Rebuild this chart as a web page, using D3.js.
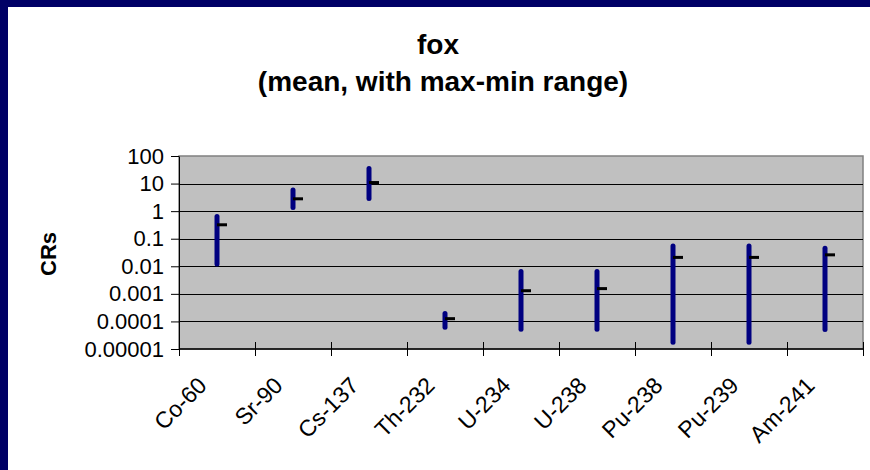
<!DOCTYPE html>
<html>
<head>
<meta charset="utf-8">
<script src="https://cdn.jsdelivr.net/npm/d3@7"></script>
<style>
  html, body { margin: 0; padding: 0; background: #ffffff; }
  svg { display: block; }
  text { font-family: "Liberation Sans", Arial, sans-serif; fill: #000; }
</style>
</head>
<body>
<svg id="chart" width="870" height="470"></svg>
<script>
// Radionuclides on the category axis
const categories = ["Co-60", "Sr-90", "Cs-137", "Th-232", "U-234", "U-238", "Pu-238", "Pu-239", "Am-241"];
// Concentration ratios: maximum, minimum and mean per nuclide
const maxValues  = [0.64, 5.8, 35, 0.000195, 0.0065, 0.0065, 0.054, 0.054, 0.045];
const minValues  = [0.012, 1.35, 2.9, 0.000062, 0.000052, 0.000052, 0.0000177, 0.0000177, 0.000051];
const meanValues = [0.32, 2.8, 10.9, 0.000126, 0.0013, 0.00155, 0.021, 0.021, 0.026];
// Log axis ticks and their printed labels
const yTickValues = [0.00001, 0.0001, 0.001, 0.01, 0.1, 1, 10, 100];
const yTickLabels = ["0.00001", "0.0001", "0.001", "0.01", "0.1", "1", "10", "100"];

const svg = d3.select("#chart");
const W = 870, H = 470;

// navy frame around the white chart area
svg.append("rect").attr("x", 0).attr("y", 0).attr("width", W).attr("height", H).attr("fill", "#000066");
svg.append("rect").attr("x", 8).attr("y", 7).attr("width", W - 8).attr("height", H - 7).attr("fill", "#ffffff");

const plot = { left: 179, right: 863, top: 156, bottom: 349 };

const x = d3.scaleBand().domain(categories).range([plot.left, plot.right]);
const y = d3.scaleLog().domain([0.00001, 100]).range([plot.bottom, plot.top]);

// plot area background
svg.append("rect")
  .attr("x", plot.left).attr("y", plot.top)
  .attr("width", plot.right - plot.left).attr("height", plot.bottom - plot.top)
  .attr("fill", "#c0c0c0").attr("stroke", "#808080").attr("stroke-width", 1.5);

// horizontal gridlines at each decade
svg.append("g").selectAll("line")
  .data(yTickValues.slice(1, -1))
  .join("line")
  .attr("x1", plot.left).attr("x2", plot.right)
  .attr("y1", d => Math.round(y(d)) + 0.5).attr("y2", d => Math.round(y(d)) + 0.5)
  .attr("stroke", "#000").attr("stroke-width", 1);

// y axis
const yAxis = d3.axisLeft(y)
  .tickValues(yTickValues)
  .tickFormat((d, i) => yTickLabels[i])
  .tickSize(8)
  .tickPadding(7)
  .tickSizeOuter(0);
const yG = svg.append("g").attr("transform", `translate(${plot.left},0)`).call(yAxis);
yG.select(".domain").attr("stroke", "#000");
yG.selectAll(".tick line").attr("stroke", "#000");
yG.selectAll(".tick text")
  .style("font-family", "'Liberation Sans', Arial, sans-serif")
  .style("font-size", "22px").attr("fill", "#000");

// x axis: ticks on category boundaries, crossing the axis line
const bounds = categories.map(c => x(c)).concat([plot.right]);
svg.append("line")
  .attr("x1", plot.left).attr("x2", plot.right)
  .attr("y1", plot.bottom).attr("y2", plot.bottom)
  .attr("stroke", "#000").attr("stroke-width", 1.5);
svg.append("g").selectAll("line")
  .data(bounds)
  .join("line")
  .attr("x1", d => Math.round(d) + 0.5).attr("x2", d => Math.round(d) + 0.5)
  .attr("y1", plot.bottom - 7).attr("y2", plot.bottom + 7)
  .attr("stroke", "#000").attr("stroke-width", 1);

// rotated category labels
svg.append("g").selectAll("text")
  .data(categories)
  .join("text")
  .attr("transform", d => `translate(${x(d) + x.bandwidth() / 2 - 9},387) rotate(-45)`)
  .attr("text-anchor", "end")
  .style("font-size", "23px")
  .text(d => d);

// max-min range lines
const rows = categories.map((c, i) => ({ c, max: maxValues[i], min: minValues[i], mean: meanValues[i] }));
svg.append("g").selectAll("line")
  .data(rows)
  .join("line")
  .attr("x1", d => x(d.c) + x.bandwidth() / 2).attr("x2", d => x(d.c) + x.bandwidth() / 2)
  .attr("y1", d => y(d.max)).attr("y2", d => y(d.min))
  .attr("stroke", "#000080").attr("stroke-width", 5).attr("stroke-linecap", "round");

// mean markers (right-hand ticks)
svg.append("g").selectAll("line")
  .data(rows)
  .join("line")
  .attr("x1", d => x(d.c) + x.bandwidth() / 2).attr("x2", d => x(d.c) + x.bandwidth() / 2 + 10)
  .attr("y1", d => y(d.mean)).attr("y2", d => y(d.mean))
  .attr("stroke", "#000").attr("stroke-width", 3);

// titles
svg.append("text").attr("x", 438).attr("y", 54).attr("text-anchor", "middle")
  .style("font-size", "28px").style("font-weight", "bold").text("fox");
svg.append("text").attr("x", 443).attr("y", 91).attr("text-anchor", "middle")
  .style("font-size", "28px").style("font-weight", "bold").text("(mean, with max-min range)");

svg.append("text")
  .attr("transform", "translate(56,254) rotate(-90)")
  .attr("text-anchor", "middle")
  .style("font-size", "22px").style("font-weight", "bold")
  .text("CRs");
</script>
</body>
</html>
